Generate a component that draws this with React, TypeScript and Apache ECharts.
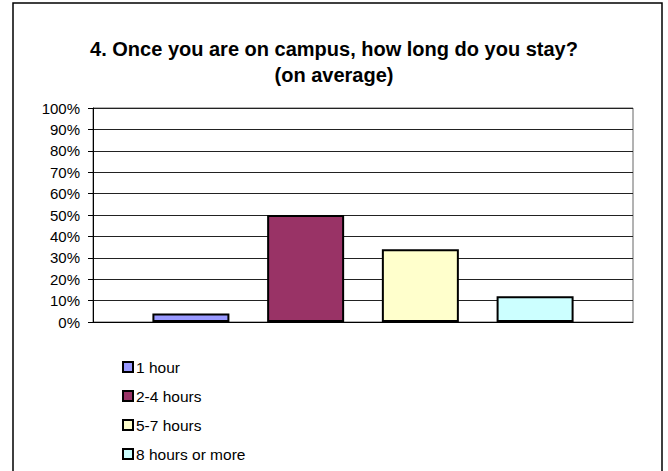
import React, { useEffect, useRef } from "react";
import * as echarts from "echarts";

const titleText = "4. Once you are on campus, how long do you stay?\n(on average)";
const categories = ["Q4"];
const seriesNames = ["1 hour", "2-4 hours", "5-7 hours", "8 hours or more"];
const seriesValues = [4, 50, 34, 12];
const seriesColors = ["#9999FF", "#993366", "#FFFFCC", "#CCFFFF"];

export default function App() {
  const ref = useRef<HTMLDivElement>(null);
  useEffect(() => {
    document.body.style.margin = "0";
    const chart = echarts.init(ref.current!, null, { renderer: "svg" });
    const font = "Arial, 'Liberation Sans', sans-serif";
    chart.setOption({
      animation: false,
      backgroundColor: "#ffffff",
      textStyle: { fontFamily: font },
      title: {
        text: titleText,
        left: "center",
        top: 31,
        textStyle: {
          fontFamily: font,
          fontSize: 20,
          fontWeight: "bold",
          color: "#000",
          lineHeight: 26,
        },
      },
      graphic: [
        {
          type: "rect",
          shape: { x: 13, y: 3, width: 649, height: 480 },
          style: { fill: "none", stroke: "#000", lineWidth: 1.5 },
          silent: true,
          z: 100,
        },
      ],
      legend: {
        orient: "vertical",
        left: 117,
        top: 354,
        itemWidth: 10,
        itemHeight: 10,
        itemGap: 13,
        icon: "rect",
        textStyle: {
          fontFamily: font,
          fontSize: 15.5,
          lineHeight: 16,
          color: "#000",
          padding: [0, 0, 0, -2],
        },
        data: seriesNames,
      },
      grid: {
        left: 93,
        right: 35,
        top: 108,
        bottom: 149,
        show: true,
        borderColor: "#666",
        borderWidth: 1,
      },
      xAxis: {
        type: "category",
        data: categories,
        axisLabel: { show: false },
        axisTick: { show: false },
        axisLine: { lineStyle: { color: "#000", width: 1 } },
      },
      yAxis: {
        type: "value",
        min: 0,
        max: 100,
        interval: 10,
        axisLabel: {
          formatter: "{value}%",
          fontFamily: font,
          fontSize: 15,
          color: "#000",
          margin: 13,
        },
        axisTick: { show: true, length: 5, lineStyle: { color: "#000" } },
        axisLine: { show: true, lineStyle: { color: "#000", width: 1 } },
        splitLine: { lineStyle: { color: "#222", width: 1 } },
      },
      series: seriesNames.map((name, i) => ({
        name,
        type: "bar",
        data: [seriesValues[i]],
        barWidth: 77,
        barGap: "49%",
        itemStyle: { color: seriesColors[i], borderColor: "#000", borderWidth: 2 },
      })),
    });
    return () => chart.dispose();
  }, []);
  return (
    <div
      ref={ref}
      style={{ position: "absolute", left: 0, top: 0, width: 668, height: 471 }}
    />
  );
}
